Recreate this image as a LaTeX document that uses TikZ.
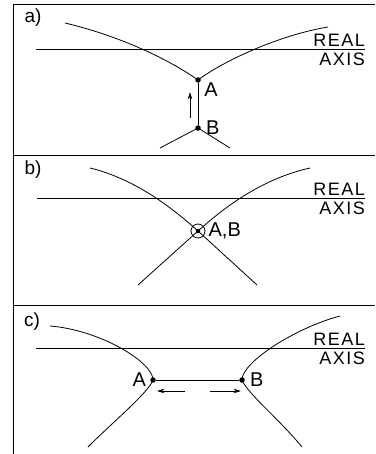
\documentclass[tikz,border=0pt]{standalone}
\usepackage{fontspec}
\setmainfont{Liberation Sans}
\usetikzlibrary{arrows.meta,positioning}

\begin{document}
\begin{tikzpicture}[
  x=1pt, y=-1pt,
  dot/.style   = {circle, fill, inner sep=0pt, minimum size=5.5pt},
  ring/.style  = {circle, draw, line width=0.8pt, inner sep=0pt, minimum size=14pt},
  lbl/.style   = {inner sep=0pt, font=\fontsize{20}{20}\selectfont},
  tag/.style   = {inner sep=0pt, font=\fontsize{19}{19}\selectfont},
  axlbl/.style = {inner sep=0pt, font=\fontsize{18}{18}\selectfont\addfontfeature{LetterSpace=8}},
  crv/.style   = {line width=0.8pt},
  ax/.style    = {line width=0.6pt},
  arr/.style   = {-{Stealth[length=2.6mm,width=1.6mm]}, line width=0.8pt},
]
\useasboundingbox (0,0) rectangle (375,454);
% frame
\coordinate (tl) at (13,4);   \coordinate (tr) at (375,4);
\coordinate (bl) at (13,454);
\coordinate (d1l) at (13,155); \coordinate (d1r) at (375,155);
\coordinate (d2l) at (13,305); \coordinate (d2r) at (375,305);
\draw[ax] (tr) -- (tl) -- (bl);
\draw[ax] (d1l) -- (d1r);
\draw[ax] (d2l) -- (d2r);

% a)
\node[tag] (atag) at (33,18) {a)};
\coordinate (aaxl) at (36,49); \coordinate (aaxr) at (365,49);
\draw[ax] (aaxl) -- (aaxr);
\node[axlbl, anchor=south east] (areal) at (365,47) {REAL};
\node[axlbl, anchor=north east] (aaxis) at (365,53) {AXIS};
\node[dot] (aA) at (198,80) {};
\node[dot] (aB) at (198,128) {};
\node[lbl, below right=0pt and 4pt of aA] (aAl) {A};
\node[lbl, right=5pt of aB] (aBl) {B};
\coordinate (a1) at (65,23);  \coordinate (a2) at (328,27);
\coordinate (a3) at (160,148); \coordinate (a4) at (230,148);
\draw[crv] (a1) .. controls (120,36) and (170,60) .. (aA.center)
           .. controls (225,60) and (280,35) .. (a2);
\draw[crv] (aA) -- (aB);
\draw[crv] (a3) -- (aB.center) -- (a4);
\coordinate (aup0) at (190,118); \coordinate (aup1) at (190,92);
\draw[arr] (aup0) -- (aup1);

% b)
\node[tag] (btag) at (33,170) {b)};
\coordinate (baxl) at (37,198); \coordinate (baxr) at (365,198);
\draw[ax] (baxl) -- (baxr);
\node[axlbl, anchor=south east] (breal) at (365,196) {REAL};
\node[axlbl, anchor=north east] (baxis) at (365,202) {AXIS};
\node[ring] (bAB) at (198,231) {};
\node[dot, minimum size=4.5pt] (bdot) at (bAB) {};
\node[lbl, right=3pt of bAB] (bABl) {A,B};
\coordinate (b1) at (90,168);  \coordinate (b2) at (257,285);
\coordinate (b3) at (310,168); \coordinate (b4) at (138,285);
\draw[crv] (b1) .. controls (140,180) and (180,215) .. (bAB.center) -- (b2);
\draw[crv] (b3) .. controls (256,180) and (216,215) .. (bAB.center) -- (b4);

% c)
\node[tag] (ctag) at (32,322) {c)};
\coordinate (caxl) at (36,348); \coordinate (caxr) at (365,348);
\draw[ax] (caxl) -- (caxr);
\node[axlbl, anchor=south east] (creal) at (365,346) {REAL};
\node[axlbl, anchor=north east] (caxis) at (365,352) {AXIS};
\node[dot] (cA) at (153,380) {};
\node[dot] (cB) at (242,380) {};
\node[lbl, left=4pt of cA] (cAl) {A};
\node[lbl, right=5pt of cB] (cBl) {B};
\coordinate (c1) at (50,326);  \coordinate (c2) at (88,447);
\coordinate (c3) at (340,316); \coordinate (c4) at (302,447);
\draw[crv] (c1) .. controls (100,330) and (153,362) .. (cA.center)
           .. controls (148,393) and (115,420) .. (c2);
\draw[crv] (c3) .. controls (295,328) and (242,362) .. (cB.center)
           .. controls (247,393) and (280,420) .. (c4);
\draw[crv] (cA) -- (cB);
\coordinate (cl0) at (185,391); \coordinate (cl1) at (157,391);
\coordinate (cr0) at (210,391); \coordinate (cr1) at (241,391);
\draw[arr] (cl0) -- (cl1);
\draw[arr] (cr0) -- (cr1);
\end{tikzpicture}
\end{document}
